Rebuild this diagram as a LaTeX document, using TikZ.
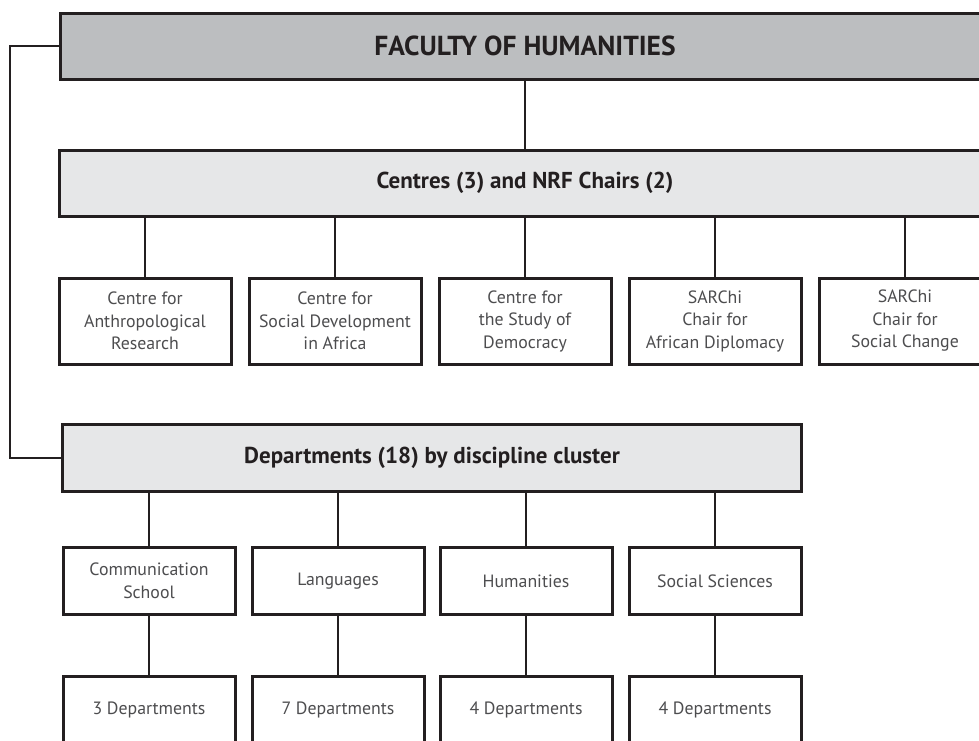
\documentclass[tikz,border=0pt]{standalone}
\usepackage{fontspec}
\setmainfont{PT Sans}
\usetikzlibrary{positioning}
\definecolor{inkdark}{HTML}{231F20}
\definecolor{inktext}{HTML}{4D4D4F}
\definecolor{fillmid}{HTML}{BCBEC0}
\definecolor{filllight}{HTML}{E6E7E8}
\tikzset{
  box/.style = {draw=inkdark, line width=3pt, align=center, inner sep=2pt},
  headbox/.style = {box, font=\fontsize{23}{26}\selectfont\bfseries, text=inkdark, minimum height=66pt},
  unitbox/.style = {box, fill=white, font=\fontsize{17.8}{22.5}\selectfont, text=inktext, minimum width=172pt},
  link/.style = {draw=inkdark, line width=2.6pt}
}

\begin{document}
\begin{tikzpicture}[x=1pt,y=-1pt]
\useasboundingbox (0,0) rectangle (979,740);
\clip (0,0) rectangle (979,740);

\node[headbox, fill=fillmid, minimum width=930pt, font=\fontsize{27.5}{30}\selectfont\bfseries] (faculty) at (525,46) {FACULTY OF HUMANITIES};
\node[headbox, fill=filllight, minimum width=932pt] (centres) at (525,183) {Centres (3) and NRF Chairs (2)};

\node[unitbox, minimum height=86pt] (anthro) at (145,321) {Centre for\\Anthropological\\Research};
\node[unitbox, minimum height=86pt] (socdev) at (335,321) {Centre for\\Social Development\\in Africa};
\node[unitbox, minimum height=86pt] (democ) at (525,321) {Centre for\\the Study of\\Democracy};
\node[unitbox, minimum height=86pt] (diplo) at (715,321) {SARChi\\Chair for\\African Diplomacy};
\node[unitbox, minimum height=86pt] (change) at (905,321) {SARChi\\Chair for\\Social Change};

\node[headbox, fill=filllight, minimum width=739pt, minimum height=67pt] (depts) at (432,458) {Departments (18) by discipline cluster};

\node[unitbox, minimum height=67pt] (comm) at (149,581) {Communication\\School};
\node[unitbox, minimum height=67pt] (lang) at (338,581) {Languages};
\node[unitbox, minimum height=67pt] (human) at (526,581) {Humanities};
\node[unitbox, minimum height=67pt] (social) at (715,581) {Social Sciences};

\node[unitbox, minimum height=67pt] (commdep) at (149,710) {3 Departments};
\node[unitbox, minimum height=67pt] (langdep) at (338,710) {7 Departments};
\node[unitbox, minimum height=67pt] (humandep) at (526,710) {4 Departments};
\node[unitbox, minimum height=67pt] (socialdep) at (715,710) {4 Departments};

\coordinate (rail) at (10,458);
\draw[link] (faculty.west) -| (rail) -- (depts.west);
\draw[link] (faculty.south) -- (centres.north);

\draw[link] (anthro.north |- centres.south) -- (anthro.north);
\draw[link] (socdev.north |- centres.south) -- (socdev.north);
\draw[link] (democ.north |- centres.south) -- (democ.north);
\draw[link] (diplo.north |- centres.south) -- (diplo.north);
\draw[link] (change.north |- centres.south) -- (change.north);

\draw[link] (comm.north |- depts.south) -- (comm.north);
\draw[link] (lang.north |- depts.south) -- (lang.north);
\draw[link] (human.north |- depts.south) -- (human.north);
\draw[link] (social.north |- depts.south) -- (social.north);

\draw[link] (comm) -- (commdep);
\draw[link] (lang) -- (langdep);
\draw[link] (human) -- (humandep);
\draw[link] (social) -- (socialdep);

\end{tikzpicture}
\end{document}
